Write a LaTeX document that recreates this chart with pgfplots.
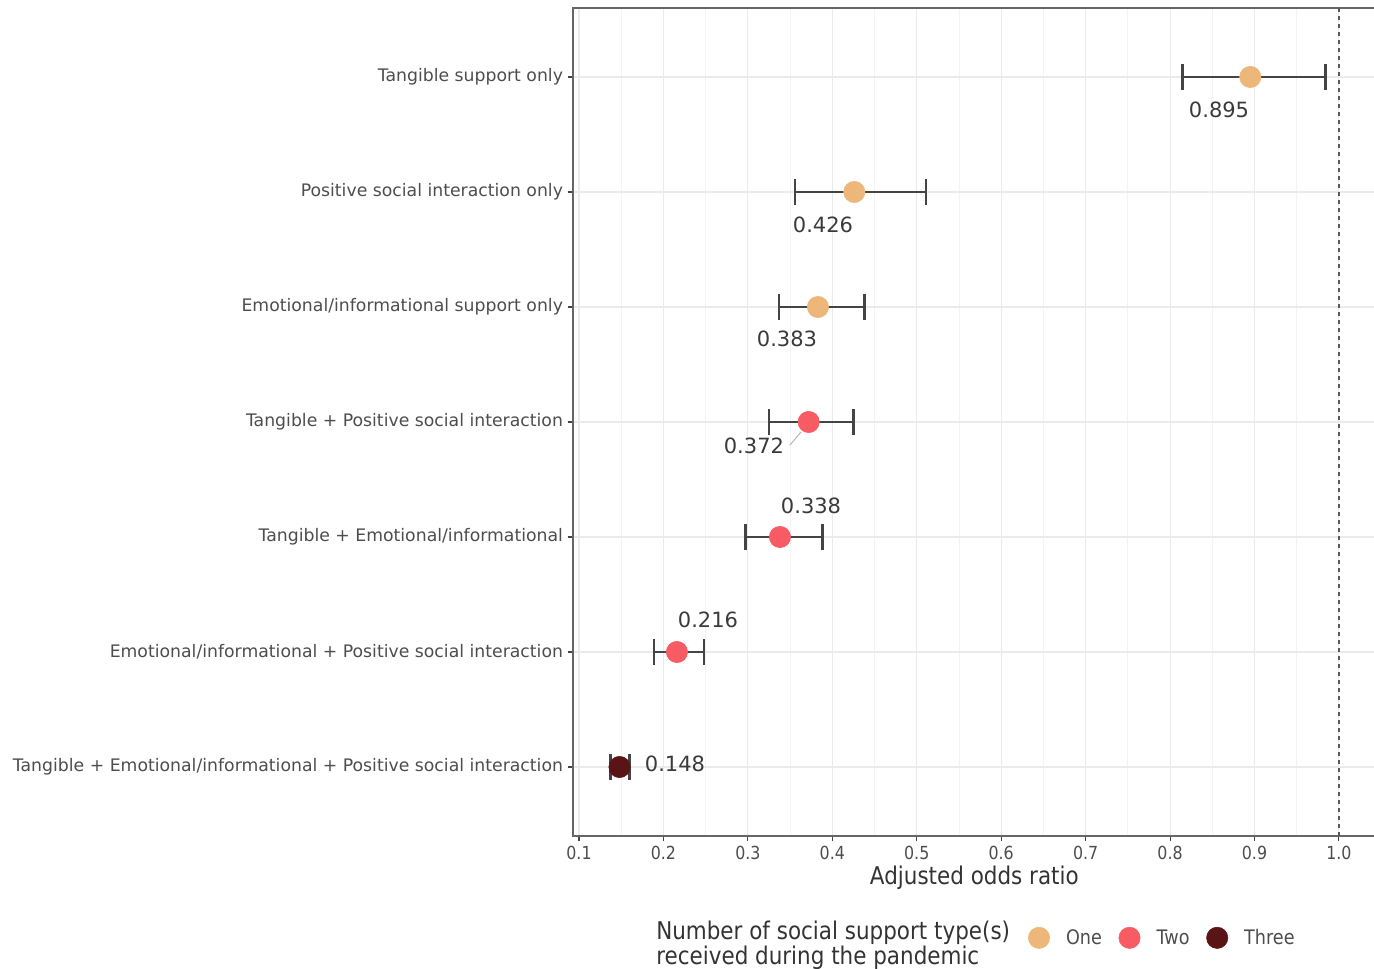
\documentclass[border=0pt]{standalone}
\usepackage{fontspec}
\setmainfont{DejaVu Sans}
\newfontfamily\condfont{DejaVu Sans}[FakeStretch=0.88]
\usepackage{pgfplots}
\pgfplotsset{compat=1.18}
\definecolor{cOne}{HTML}{EDB77A}
\definecolor{cTwo}{HTML}{F75C64}
\definecolor{cThree}{HTML}{5A1416}
\definecolor{barc}{HTML}{444444}
\definecolor{txtc}{HTML}{4D4D4D}
\definecolor{lblc}{HTML}{3A3A3A}
\definecolor{gridc}{HTML}{EBEBEB}
\definecolor{gridm}{HTML}{F3F3F3}
\begin{document}
\begin{tikzpicture}
\useasboundingbox (0,0) rectangle (1030.5pt,726.75pt);
\begin{axis}[
  at={(429.75pt,99.75pt)}, anchor=south west,
  scale only axis, width=602pt, height=621pt,
  xmin=0.0929, xmax=1.0435, ymin=0.4, ymax=7.6,
  xtick={0.1,0.2,0.3,0.4,0.5,0.6,0.7,0.8,0.9,1.0},
  xticklabels={0.1,0.2,0.3,0.4,0.5,0.6,0.7,0.8,0.9,1.0},
  minor xtick={0.15,0.25,0.35,0.45,0.55,0.65,0.75,0.85,0.95,1.05},
  ytick={1,2,3,4,5,6,7},
  yticklabels={Tangible + Emotional/informational + Positive social interaction,
    Emotional/informational + Positive social interaction,
    Tangible + Emotional/informational,
    Tangible + Positive social interaction,
    Emotional/informational support only,
    Positive social interaction only,
    Tangible support only},
  grid=both,
  major grid style={color=gridc, line width=0.8pt},
  minor grid style={color=gridm, line width=0.7pt},
  tick align=outside, major tick length=4pt, minor tick length=0pt,
  tick style={color=barc, line width=0.8pt},
  xtick pos=bottom, ytick pos=left,
  axis line style={color=gray!80!black, line width=0.8pt},
  x tick label style={font=\condfont\fontsize{13.5}{15}\selectfont, text=txtc, yshift=0pt},
  y tick label style={font=\fontsize{12.95}{15}\selectfont, text=txtc, xshift=0pt},
  /pgf/number format/assume math mode=true,
  xlabel={Adjusted odds ratio},
  xlabel style={font=\condfont\fontsize{18.3}{20}\selectfont, text=black!80, yshift=2pt},
  legend style={at={(0.562,-0.123)}, anchor=west, draw=none, fill=none,
    font=\condfont\fontsize{15}{17}\selectfont, text=txtc,
    /tikz/every even column/.append style={column sep=10.75pt},
    /tikz/every odd column/.append style={column sep=10.25pt}},
  legend columns=-1,
  clip=false,
]
\addplot[only marks, mark=*, mark size=8pt, color=cOne, mark options={draw=cOne, fill=cOne},
  error bars/.cd, x dir=both, x explicit, error mark=|,
  error bar style={line width=2pt, color=barc},
  error mark options={line width=2pt, color=barc, mark size=9.5pt}]
  coordinates {
  (0.895,7) += (0.089,0) -= (0.080,0)
  (0.426,6) += (0.085,0) -= (0.070,0)
  (0.383,5) += (0.055,0) -= (0.046,0)
  };
\addlegendentry{One}
\addplot[only marks, mark=*, mark size=8pt, color=cTwo, mark options={draw=cTwo, fill=cTwo},
  error bars/.cd, x dir=both, x explicit, error mark=|,
  error bar style={line width=2pt, color=barc},
  error mark options={line width=2pt, color=barc, mark size=9.5pt}]
  coordinates {
  (0.372,4) += (0.053,0) -= (0.047,0)
  (0.338,3) += (0.050,0) -= (0.041,0)
  (0.216,2) += (0.032,0) -= (0.027,0)
  };
\addlegendentry{Two}
\addplot[only marks, mark=*, mark size=8pt, color=cThree, mark options={draw=cThree, fill=cThree},
  error bars/.cd, x dir=both, x explicit, error mark=|,
  error bar style={line width=2pt, color=barc},
  error mark options={line width=2pt, color=barc, mark size=9.5pt}]
  coordinates {
  (0.148,1) += (0.012,0) -= (0.011,0)
  };
\addlegendentry{Three}
\addplot[forget plot, dashed, color=gray!70!black, line width=0.9pt] coordinates {(1.0,0.4) (1.0,7.6)};
\draw[gray!55, line width=0.8pt] (axis cs:0.3499,3.80) -- (axis cs:0.3629,3.913);
\begin{scope}[every node/.style={font=\fontsize{15.75}{18}\selectfont, text=lblc, inner sep=0pt}]
\node at (axis cs:0.858,6.713) {0.895};
\node at (axis cs:0.389,5.713) {0.426};
\node at (axis cs:0.3463,4.722) {0.383};
\node at (axis cs:0.3072,3.791) {0.372};
\node at (axis cs:0.3748,3.270) {0.338};
\node at (axis cs:0.2528,2.278) {0.216};
\node at (axis cs:0.2137,1.026) {0.148};
\end{scope}
\end{axis}
\node[anchor=west, align=left, inner sep=0pt, font=\condfont\fontsize{18.3}{17.5}\selectfont, text=black!80] at (492pt,18pt) {Number of social support type(s)\\received during the pandemic};
\end{tikzpicture}
\end{document}
